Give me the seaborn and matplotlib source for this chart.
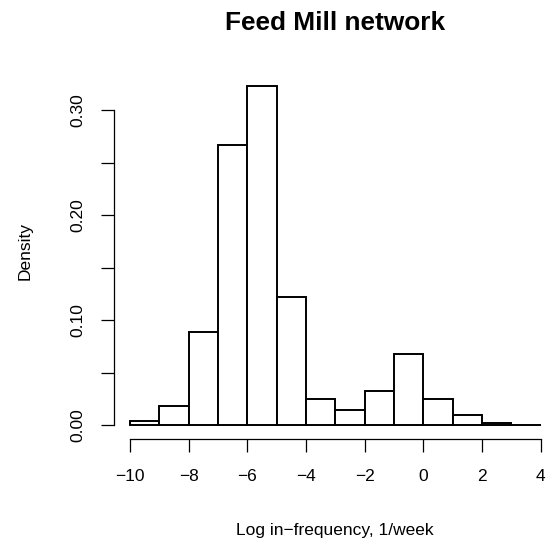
import numpy as np
import pandas as pd
import matplotlib
matplotlib.use("Agg")
import matplotlib.pyplot as plt
import seaborn as sns

# Data (density per 1-unit bin)
bin_edges = [-10, -9, -8, -7, -6, -5, -4, -3, -2, -1, 0, 1, 2, 3, 4]
densities = [0.004, 0.018, 0.089, 0.267, 0.323, 0.122, 0.025, 0.015,
             0.033, 0.068, 0.025, 0.010, 0.0025, 0.0007]
x_ticks = [-10, -8, -6, -4, -2, 0, 2, 4]
y_ticks = [0.00, 0.05, 0.10, 0.15, 0.20, 0.25, 0.30]
y_labels = ["0.00", "", "0.10", "", "0.20", "", "0.30"]
title = "Feed Mill network"
xlab = "Log in\u2212frequency, 1/week"
ylab = "Density"

sns.set_style("white")
plt.rcParams['font.family'] = ['Liberation Sans', 'DejaVu Sans']
plt.rcParams['text.color'] = 'black'

W, H = 549, 548
fig = plt.figure(figsize=(W / 100, H / 100), dpi=100)

# plot region in pixels (R style with 4% padding)
left_px, right_px = 113.6, 557.0
top_px, bottom_px = 72.5, 438.9
ax = fig.add_axes([left_px / W, 1 - bottom_px / H,
                   (right_px - left_px) / W, (bottom_px - top_px) / H])
ax.patch.set_alpha(0)

centers = [(a + b) / 2 for a, b in zip(bin_edges[:-1], bin_edges[1:])]
df = pd.DataFrame({"x": centers, "w": densities})
sns.histplot(data=df, x="x", weights="w", bins=bin_edges, stat="count",
             color="white", edgecolor="black", linewidth=1.4, alpha=1,
             ax=ax)

ax.set_xlim(-10.56, 4.56)
ax.set_ylim(-0.0129, 0.3359)
ax.set_xlabel("")
ax.set_ylabel("")

for s in ["top", "right"]:
    ax.spines[s].set_visible(False)
ax.spines["left"].set_bounds(0, 0.30)
ax.spines["bottom"].set_bounds(-10, 4)
for s in ["left", "bottom"]:
    ax.spines[s].set_visible(True)
    ax.spines[s].set_color("black")
    ax.spines[s].set_linewidth(0.9)

ax.set_xticks(x_ticks)
ax.set_xticklabels([("\u2212" if v < 0 else "") + str(abs(v)) for v in x_ticks])
ax.set_yticks(y_ticks)
ax.set_yticklabels(y_labels, rotation=90, va="center")
ax.tick_params(axis="both", direction="out", length=9.4, width=0.9,
               color="black", labelsize=12.5, labelcolor="black")
ax.tick_params(axis="x", pad=12)
ax.tick_params(axis="y", pad=11)
ax.tick_params(left=True, bottom=True)

fig.text(335 / W, 1 - 30 / H, title, ha="center", va="baseline",
         fontsize=18.9, fontweight="bold", color="black")
fig.text(335 / W, 1 - 530 / H, xlab, ha="center", va="center",
         fontsize=12.5, color="black")
fig.text(25 / W, 1 - 251 / H, ylab, ha="center", va="center",
         rotation=90, fontsize=12.5, color="black")

fig.savefig("out.png", dpi=100)
